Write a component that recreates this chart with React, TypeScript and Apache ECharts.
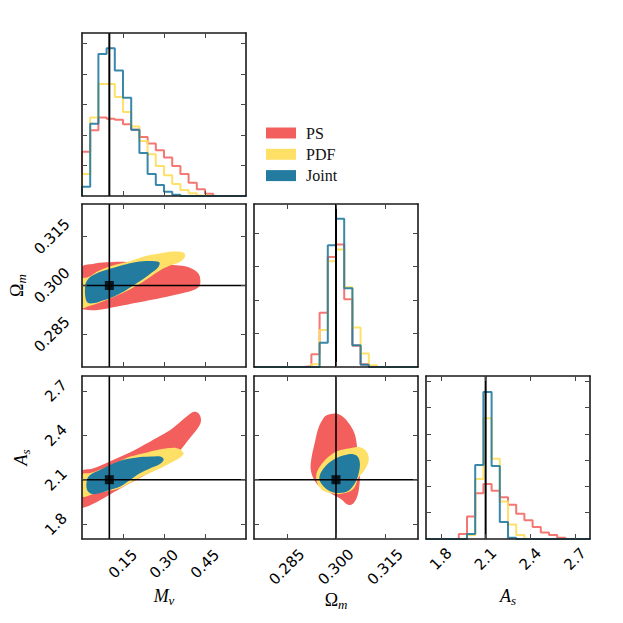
import React, { useEffect, useRef } from "react";
import * as echarts from "echarts";

// ---------- data ----------
const NAMES = ["PS", "PDF", "Joint"];
const COLORS = ["#F25F5C", "#FFE066", "#247BA0"];
const HIST_COLORS = ["rgba(242,95,92,0.85)", "rgba(255,221,90,0.9)", "rgba(36,123,160,0.9)"];

const MNU_RANGE = [0, 0.6];
const OM_RANGE = [0.275, 0.325];
const AS_RANGE = [1.7, 2.8];
const MNU_TICKS = [0.15, 0.3, 0.45];
const OM_TICKS = [0.285, 0.3, 0.315];
const AS_TICKS = [1.8, 2.1, 2.4, 2.7];
const MNU_TRUE = 0.1;
const OM_TRUE = 0.3;
const AS_TRUE = 2.1;

// histogram bins: start, width (20 bins each)
const MNU_BIN = [0, 0.03];
const OM_BIN = [0.275, 0.0025];
const AS_BIN = [1.7, 0.055];

const MNU_HIST_PS = [1.45, 2.15, 2.57, 2.53, 2.5, 2.35, 2.17, 1.93, 1.72, 1.5, 1.26, 0.98, 0.72, 0.43, 0.22, 0.07, 0, 0, 0, 0];
const MNU_HIST_PDF = [0.72, 2.57, 3.67, 3.67, 3.24, 2.75, 2.28, 1.8, 1.37, 0.98, 0.68, 0.39, 0.2, 0.09, 0.02, 0, 0, 0, 0, 0];
const MNU_HIST_JOINT = [0.3, 2.37, 4.65, 4.84, 4.11, 3.22, 2.17, 1.41, 0.72, 0.36, 0.14, 0.04, 0, 0, 0, 0, 0, 0, 0, 0];

const OM_HIST_PS = [0, 0, 0, 0, 0, 0, 0.02, 0.38, 1.62, 3.28, 3.65, 2.02, 0.63, 0.08, 0, 0, 0, 0, 0, 0];
const OM_HIST_PDF = [0, 0, 0, 0, 0, 0, 0, 0.08, 1.1, 3.15, 3.5, 2.38, 1.18, 0.4, 0.05, 0, 0, 0, 0, 0];
const OM_HIST_JOINT = [0, 0, 0, 0, 0, 0, 0, 0, 0.72, 3.63, 4.42, 2.35, 0.65, 0.07, 0, 0, 0, 0, 0, 0];

const AS_HIST_PS = [0, 0, 0, 0, 0.19, 0.86, 1.74, 2.09, 1.84, 1.59, 1.3, 0.96, 0.71, 0.46, 0.25, 0.15, 0.05, 0, 0, 0];
const AS_HIST_PDF = [0, 0, 0, 0, 0, 0.15, 2.28, 4.59, 3.05, 1.43, 0.55, 0.15, 0, 0, 0, 0, 0, 0, 0, 0];
const AS_HIST_JOINT = [0, 0, 0, 0, 0, 0.19, 2.81, 5.59, 2.78, 0.65, 0.05, 0, 0, 0, 0, 0, 0, 0, 0, 0];

const HIST_Y_MAX = [5.34, 4.86, 6.2];
const HIST_Y_TICKS = [[1, 2, 3, 4, 5], [1, 2, 3, 4], [1, 2, 3, 4, 5, 6]];

// 2D credible regions (Mnu, Omega_m)
const MNU_OM_PS = [[0, 0.3056], [0.039, 0.3066], [0.0885, 0.3071], [0.138, 0.3073], [0.187, 0.3071], [0.236, 0.3068], [0.285, 0.3065], [0.334, 0.3063], [0.377, 0.3059], [0.408, 0.3049], [0.427, 0.3035], [0.433, 0.3015], [0.429, 0.2998], [0.408, 0.2986], [0.371, 0.2977], [0.322, 0.2968], [0.261, 0.2957], [0.199, 0.2947], [0.138, 0.2937], [0.0885, 0.2929], [0.039, 0.2924], [0.009, 0.2926], [0, 0.2929]];
const MNU_OM_PDF = [[0, 0.302], [0.021, 0.3025], [0.064, 0.3046], [0.113, 0.3061], [0.162, 0.3071], [0.199, 0.3081], [0.236, 0.3091], [0.285, 0.3098], [0.334, 0.3104], [0.371, 0.3101], [0.377, 0.3089], [0.359, 0.3073], [0.322, 0.3061], [0.285, 0.3046], [0.248, 0.3025], [0.2115, 0.3005], [0.175, 0.2988], [0.138, 0.2973], [0.101, 0.2959], [0.064, 0.2947], [0.027, 0.2937], [0, 0.2932]];
const MNU_OM_JOINT = [[0.015, 0.301], [0.033, 0.3028], [0.07, 0.3043], [0.113, 0.3054], [0.162, 0.3065], [0.199, 0.3072], [0.248, 0.3075], [0.283, 0.3071], [0.279, 0.3056], [0.2545, 0.3039], [0.224, 0.302], [0.187, 0.3], [0.15, 0.298], [0.113, 0.2965], [0.076, 0.2954], [0.0455, 0.2946], [0.021, 0.2947], [0.0123, 0.2965], [0.011, 0.299]];

// (Mnu, A_s)
const MNU_AS_PS = [[0, 2.156], [0.0366, 2.174], [0.0793, 2.205], [0.128, 2.245], [0.177, 2.285], [0.226, 2.335], [0.2745, 2.384], [0.323, 2.435], [0.36, 2.491], [0.39, 2.536], [0.409, 2.558], [0.427, 2.547], [0.4355, 2.502], [0.427, 2.457], [0.409, 2.413], [0.384, 2.357], [0.36, 2.301], [0.329, 2.245], [0.287, 2.189], [0.238, 2.138], [0.189, 2.089], [0.14, 2.04], [0.0915, 1.988], [0.0488, 1.944], [0.0183, 1.919], [0, 1.915]];
const MNU_AS_PDF = [[0, 2.1335], [0.0305, 2.145], [0.0793, 2.178], [0.128, 2.218], [0.177, 2.256], [0.226, 2.279], [0.2745, 2.301], [0.311, 2.312], [0.348, 2.312], [0.372, 2.279], [0.36, 2.25], [0.329, 2.218], [0.287, 2.178], [0.238, 2.138], [0.189, 2.093], [0.14, 2.044], [0.0915, 2.022], [0.0427, 2.004], [0, 1.988]];
const MNU_AS_JOINT = [[0.0183, 2.1], [0.0305, 2.1335], [0.0671, 2.167], [0.1037, 2.2005], [0.1525, 2.234], [0.201, 2.25], [0.25, 2.256], [0.287, 2.256], [0.299, 2.234], [0.2806, 2.2005], [0.25, 2.178], [0.2135, 2.145], [0.177, 2.1], [0.14, 2.055], [0.1037, 2.033], [0.0671, 2.011], [0.0366, 2.004], [0.0183, 2.033]];

// (Omega_m, A_s)
const OM_AS_PS = [[0.2972, 2.5356], [0.3, 2.547], [0.3022, 2.524], [0.3043, 2.469], [0.3058, 2.4016], [0.3065, 2.312], [0.3073, 2.223], [0.3073, 2.1335], [0.3071, 2.055], [0.3063, 1.977], [0.3048, 1.932], [0.3032, 1.937], [0.3017, 1.966], [0.3, 1.988], [0.2982, 2.011], [0.2956, 2.044], [0.2936, 2.089], [0.2923, 2.167], [0.2926, 2.256], [0.2936, 2.357], [0.2946, 2.446], [0.2961, 2.513]];
const OM_AS_PDF = [[0.2951, 2.189], [0.2972, 2.245], [0.3002, 2.29], [0.3043, 2.312], [0.3073, 2.319], [0.3093, 2.29], [0.31, 2.234], [0.3088, 2.167], [0.3068, 2.111], [0.3058, 2.055], [0.3043, 2.022], [0.3012, 2.004], [0.2982, 2.011], [0.2956, 2.033], [0.2941, 2.089], [0.2941, 2.145]];
const OM_AS_JOINT = [[0.2951, 2.1335], [0.2967, 2.189], [0.2992, 2.234], [0.3022, 2.263], [0.3053, 2.272], [0.3068, 2.25], [0.3073, 2.2005], [0.3068, 2.1335], [0.3058, 2.078], [0.3038, 2.026], [0.3012, 2.011], [0.2987, 2.017], [0.2967, 2.044], [0.2951, 2.089]];

// ---------- layout ----------
const GRID_LEFT = [82, 254, 426];
const GRID_TOP = [33, 204, 376];
const GRID_W = 164;
const GRID_H = 163;

const LABEL_FONT = "DejaVu Sans";
const MATH_FONT = "Liberation Serif";

const nameRich = {
  i: { fontFamily: MATH_FONT, fontStyle: "italic", fontSize: 18, color: "#000", lineHeight: 22, verticalAlign: "middle" },
  u: { fontFamily: MATH_FONT, fontSize: 18, color: "#000", lineHeight: 22, verticalAlign: "middle" },
  s: { fontFamily: MATH_FONT, fontStyle: "italic", fontSize: 13, color: "#000", lineHeight: 10, verticalAlign: "bottom" },
};

function stepData(bin: number[], vals: number[]) {
  const pts: number[][] = [[bin[0], 0]];
  vals.forEach((v, i) => pts.push([bin[0] + bin[1] * i, v]));
  pts.push([bin[0] + bin[1] * vals.length, 0]);
  return pts;
}

function buildOption() {
  const grids: any[] = [];
  const xAxes: any[] = [];
  const yAxes: any[] = [];
  const series: any[] = [];

  const tick = { show: true, inside: true, length: 5, lineStyle: { color: "#444", width: 1 } };
  const line = { show: true, onZero: false, lineStyle: { color: "#1a1a1a", width: 1.6 } };

  function panel(col: number, row: number, xr: number[], yr: number[], xt: number[], yt: number[], o: any) {
    const g = grids.length;
    grids.push({ left: GRID_LEFT[col], top: GRID_TOP[row], width: GRID_W, height: GRID_H, outerBoundsMode: "none" });
    const base = { gridIndex: g, type: "value", z: 10, splitLine: { show: false }, axisLine: line };
    const lab = { rotate: 45, align: "center", verticalAlign: "middle", fontFamily: LABEL_FONT, fontSize: 15, color: "#000" };
    const xLabel = o.xLabel
      ? { ...lab, show: true, customValues: xt, margin: o.xMargin, formatter: (v: number) => v.toFixed(o.xDec) }
      : { show: false };
    const yLabel = o.yLabel
      ? { ...lab, show: true, customValues: yt, margin: o.yMargin, formatter: (v: number) => v.toFixed(o.yDec) }
      : { show: false };
    xAxes.push({
      ...base, position: "bottom", min: xr[0], max: xr[1], axisTick: { ...tick, customValues: xt }, axisLabel: xLabel,
      ...(o.xName ? { name: o.xName, nameLocation: "middle", nameGap: 46, nameTextStyle: { rich: nameRich } } : {}),
    });
    xAxes.push({ ...base, position: "top", min: xr[0], max: xr[1], axisTick: { ...tick, customValues: xt }, axisLabel: { show: false } });
    yAxes.push({
      ...base, position: "left", min: yr[0], max: yr[1], axisTick: { ...tick, customValues: yt }, axisLabel: yLabel,
      ...(o.yName ? { name: o.yName, nameLocation: "middle", nameGap: 50, nameTextStyle: { rich: nameRich } } : {}),
    });
    yAxes.push({ ...base, position: "right", min: yr[0], max: yr[1], axisTick: { ...tick, customValues: yt }, axisLabel: { show: false } });
    return { xi: 2 * g, yi: 2 * g };
  }

  function hist(ax: any, bin: number[], sets: number[][], truth: number, ymax: number) {
    sets.forEach((vals, k) => {
      series.push({
        type: "line", name: NAMES[k] + " hist", xAxisIndex: ax.xi, yAxisIndex: ax.yi, data: stepData(bin, vals),
        step: "end", symbol: "none", silent: true, z: 3 + k, lineStyle: { color: HIST_COLORS[k], width: 2 },
      });
    });
    series.push({
      type: "line", xAxisIndex: ax.xi, yAxisIndex: ax.yi, data: [[truth, 0], [truth, ymax]], symbol: "none", silent: true, z: 8,
      lineStyle: { color: "#000", width: 2 },
    });
  }

  function contour(ax: any, sets: number[][][], tx: number, ty: number, xr: number[], yr: number[]) {
    sets.forEach((pts, k) => {
      series.push({
        type: "custom", name: NAMES[k], xAxisIndex: ax.xi, yAxisIndex: ax.yi, data: pts, silent: true, z: 2 + k,
        itemStyle: { color: COLORS[k] }, encode: { x: 0, y: 1 }, clip: true,
        renderItem: (params: any, api: any) => {
          if (params.dataIndex !== 0) return null;
          const points = pts.map((p) => api.coord(p));
          return { type: "polygon", shape: { points, smooth: 0.35 }, style: { fill: COLORS[k] } };
        },
      });
    });
    series.push({ type: "line", xAxisIndex: ax.xi, yAxisIndex: ax.yi, data: [[tx, yr[0]], [tx, yr[1]]], symbol: "none", silent: true, z: 8, lineStyle: { color: "#000", width: 1.6 } });
    series.push({ type: "line", xAxisIndex: ax.xi, yAxisIndex: ax.yi, data: [[xr[0], ty], [xr[1], ty]], symbol: "none", silent: true, z: 8, lineStyle: { color: "#000", width: 1.6 } });
    series.push({ type: "scatter", xAxisIndex: ax.xi, yAxisIndex: ax.yi, data: [[tx, ty]], symbol: "rect", symbolSize: 9, silent: true, z: 9, itemStyle: { color: "#000" } });
  }

  const histY0 = [0, HIST_Y_MAX[0]];
  const histY1 = [0, HIST_Y_MAX[1]];
  const histY2 = [0, HIST_Y_MAX[2]];

  const a0 = panel(0, 0, MNU_RANGE, histY0, MNU_TICKS, HIST_Y_TICKS[0], {});
  hist(a0, MNU_BIN, [MNU_HIST_PS, MNU_HIST_PDF, MNU_HIST_JOINT], MNU_TRUE, HIST_Y_MAX[0]);

  const a1 = panel(0, 1, MNU_RANGE, OM_RANGE, MNU_TICKS, OM_TICKS, { yLabel: true, yDec: 3, yMargin: 30, yName: "{u|Ω}{s|m}" });
  contour(a1, [MNU_OM_PS, MNU_OM_PDF, MNU_OM_JOINT], MNU_TRUE, OM_TRUE, MNU_RANGE, OM_RANGE);

  const a2 = panel(1, 1, OM_RANGE, histY1, OM_TICKS, HIST_Y_TICKS[1], {});
  hist(a2, OM_BIN, [OM_HIST_PS, OM_HIST_PDF, OM_HIST_JOINT], OM_TRUE, HIST_Y_MAX[1]);

  const a3 = panel(0, 2, MNU_RANGE, AS_RANGE, MNU_TICKS, AS_TICKS, {
    xLabel: true, xDec: 2, xMargin: 25, xName: "{i|M}{s|ν}", yLabel: true, yDec: 1, yMargin: 26, yName: "{i|A}{s|s}",
  });
  contour(a3, [MNU_AS_PS, MNU_AS_PDF, MNU_AS_JOINT], MNU_TRUE, AS_TRUE, MNU_RANGE, AS_RANGE);

  const a4 = panel(1, 2, OM_RANGE, AS_RANGE, OM_TICKS, AS_TICKS, { xLabel: true, xDec: 3, xMargin: 28, xName: "{u|Ω}{s|m}" });
  contour(a4, [OM_AS_PS, OM_AS_PDF, OM_AS_JOINT], OM_TRUE, AS_TRUE, OM_RANGE, AS_RANGE);

  const a5 = panel(2, 2, AS_RANGE, histY2, AS_TICKS, HIST_Y_TICKS[2], { xLabel: true, xDec: 1, xMargin: 20, xName: "{i|A}{s|s}" });
  hist(a5, AS_BIN, [AS_HIST_PS, AS_HIST_PDF, AS_HIST_JOINT], AS_TRUE, HIST_Y_MAX[2]);

  return {
    animation: false,
    backgroundColor: "#fff",
    grid: grids,
    xAxis: xAxes,
    yAxis: yAxes,
    legend: {
      data: NAMES, orient: "vertical", left: 266, top: 125, padding: 0, itemWidth: 30, itemHeight: 11, itemGap: 5.3, icon: "rect",
      selectedMode: false,
      textStyle: { fontFamily: MATH_FONT, fontSize: 16, color: "#111", padding: [0, 0, 0, 5] },
    },
    series,
  };
}

export default function App() {
  const ref = useRef<HTMLDivElement>(null);
  useEffect(() => {
    if (!ref.current) return;
    const chart = echarts.init(ref.current, null, { renderer: "svg" });
    chart.setOption(buildOption() as any);
    return () => chart.dispose();
  }, []);
  return <div ref={ref} style={{ width: 623, height: 623, position: "absolute", left: 0, top: 0 }} />;
}
